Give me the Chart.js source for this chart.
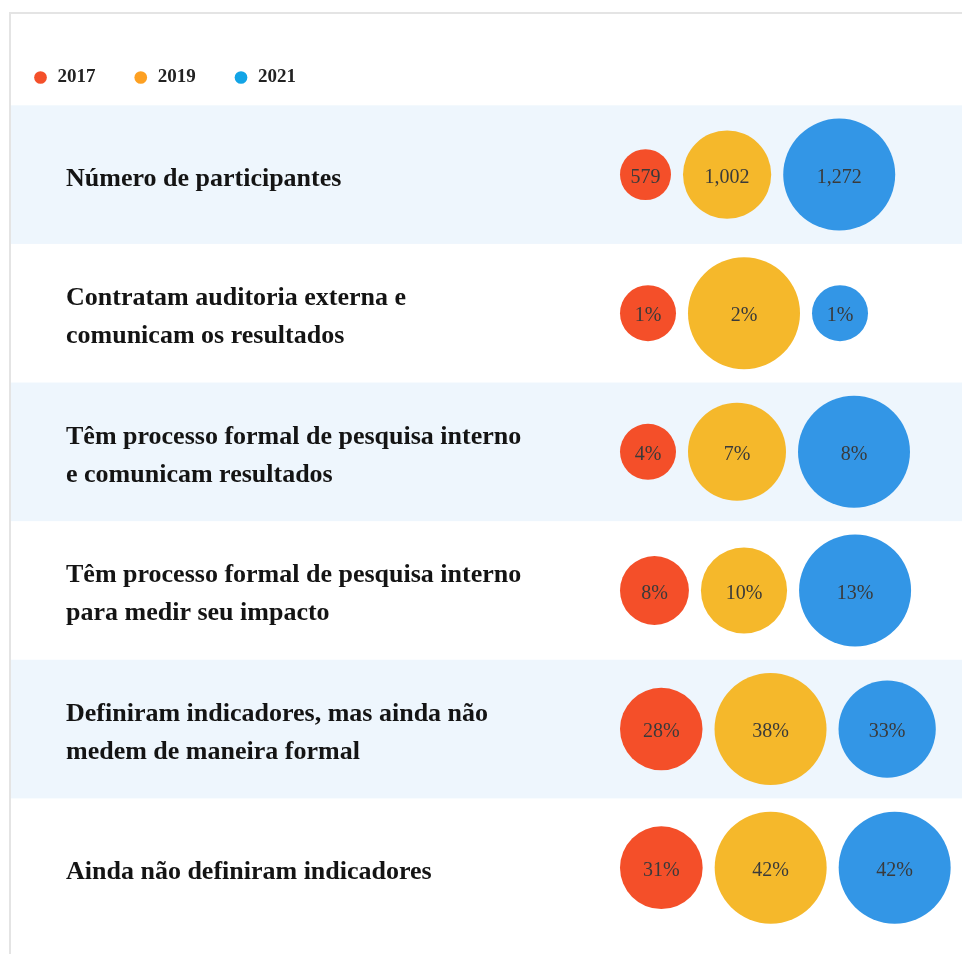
<!DOCTYPE html>
<html>
<head>
<meta charset="utf-8">
<script src="https://cdn.jsdelivr.net/npm/chart.js@4.4.1/dist/chart.umd.min.js"></script>
<style>
  html, body { margin: 0; padding: 0; background: #fff; }
  #wrap { position: relative; width: 962px; height: 954px; }
</style>
</head>
<body>
<div id="wrap"><canvas id="bubbleChart" width="962" height="954"></canvas></div>
<script>
// Rows top to bottom, each label split in lines
const categories = [
    ['Número de participantes'],
    ['Contratam auditoria externa e', 'comunicam os resultados'],
    ['Têm processo formal de pesquisa interno', 'e comunicam resultados'],
    ['Têm processo formal de pesquisa interno', 'para medir seu impacto'],
    ['Definiram indicadores, mas ainda não', 'medem de maneira formal'],
    ['Ainda não definiram indicadores']
];
const years = ['2017', '2019', '2021'];
// first row is a head count, the other rows are percentages
const values2017 = [579, 1, 4, 8, 28, 31];
const values2019 = [1002, 2, 7, 10, 38, 42];
const values2021 = [1272, 1, 8, 13, 33, 42];
const units = ['', '%', '%', '%', '%', '%'];

const bubbleColors = ['#f44f29', '#f5b82b', '#3396e6'];
const legendColors = ['#f4502a', '#fda022', '#12a4e6'];

const MAX_R = 56;    // biggest bubble of each row
const GAP = 12;      // space between bubbles
const START_X = 620; // left edge of first bubble

function formatValue(v, unit) {
    return v.toLocaleString('en-US') + unit;
}

// bubbles of a row are packed left to right, radius relative to row max
function buildDatasets() {
    const series = [values2017, values2019, values2021];
    const sets = years.map((y, j) => ({
        label: y,
        data: [],
        backgroundColor: bubbleColors[j],
        borderWidth: 0,
        hoverBorderWidth: 0
    }));
    categories.forEach((c, i) => {
        const row = series.map(s => s[i]);
        const rowMax = Math.max(...row);
        let x = START_X;
        row.forEach((v, j) => {
            const r = v / rowMax * MAX_R;
            sets[j].data.push({ x: x + r, y: i, r: r, label: formatValue(v, units[i]) });
            x += 2 * r + GAP;
        });
    });
    return sets;
}

const rowBands = {
    id: 'rowBands',
    beforeDatasetsDraw(chart) {
        const { ctx, chartArea, scales: { y } } = chart;
        ctx.save();
        // card frame
        ctx.fillStyle = '#e4e4e4';
        ctx.fillRect(9, 12, chart.width - 9, 2);
        ctx.fillRect(9, 12, 2, chart.height - 12);

        ctx.fillStyle = '#eef6fd';
        categories.forEach((c, i) => {
            if (i % 2) return;
            const top = y.getPixelForValue(i - 0.5);
            const bottom = y.getPixelForValue(i + 0.5);
            ctx.fillRect(11, top, chartArea.right - 11, bottom - top);
        });

        // row labels
        ctx.fillStyle = '#141414';
        ctx.font = 'bold 26px "Liberation Serif"';
        ctx.textBaseline = 'alphabetic';
        categories.forEach((lines, i) => {
            const mid = y.getPixelForValue(i);
            const first = mid - (lines.length - 1) * 38 / 2 + 11;
            lines.forEach((t, k) => ctx.fillText(t, 66, first + k * 38));
        });
        ctx.restore();
    }
};

const bubbleValues = {
    id: 'bubbleValues',
    afterDatasetsDraw(chart) {
        const { ctx } = chart;
        ctx.save();
        ctx.font = '20px "Liberation Serif"';
        ctx.fillStyle = '#3a3a3a';
        ctx.textAlign = 'center';
        ctx.textBaseline = 'middle';
        chart.data.datasets.forEach((ds, d) => {
            chart.getDatasetMeta(d).data.forEach((el, i) => {
                ctx.fillText(ds.data[i].label, el.x, el.y + 3);
            });
        });
        ctx.restore();
    }
};

const ctx = document.getElementById('bubbleChart').getContext('2d');
new Chart(ctx, {
    type: 'bubble',
    data: { datasets: buildDatasets() },
    options: {
        responsive: false,
        animation: false,
        layout: { autoPadding: false, padding: { top: 35, left: 0, right: 0, bottom: 17 } },
        scales: {
            x: { type: 'linear', min: 0, max: 962, display: false },
            y: { type: 'linear', min: -0.56, max: 5.5, reverse: true, display: false }
        },
        plugins: {
            legend: {
                position: 'top',
                align: 'start',
                labels: {
                    usePointStyle: true,
                    pointStyle: 'circle',
                    boxWidth: 15,
                    boxHeight: 9,
                    padding: 33,
                    color: '#222',
                    font: { family: 'Liberation Serif', size: 19, weight: 'bold' },
                    generateLabels: chart => chart.data.datasets.map((ds, i) => ({
                        text: ds.label + ' ',
                        fillStyle: legendColors[i],
                        strokeStyle: legendColors[i],
                        lineWidth: 0,
                        pointStyle: 'circle',
                        hidden: false,
                        datasetIndex: i,
                        fontColor: '#222'
                    }))
                }
            },
            tooltip: { enabled: false }
        }
    },
    plugins: [rowBands, bubbleValues]
});
</script>
</body>
</html>
